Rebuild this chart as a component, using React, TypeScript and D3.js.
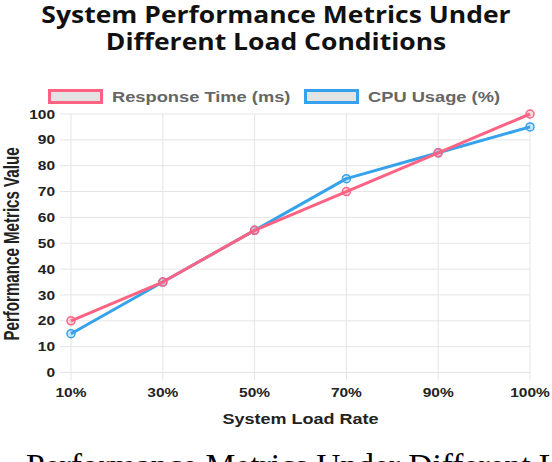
import { useEffect, useRef } from 'react';
import * as d3 from 'd3';

/**
 * System performance line chart
 *
 * Two series (response time, CPU usage) over system load rate
 */

const loadLabels = ['10%', '30%', '50%', '70%', '90%', '100%'];
const responseTime = [20, 35, 55, 70, 85, 100];
const cpuUsage = [15, 35, 55, 75, 85, 95];
const yTicks = [0, 10, 20, 30, 40, 50, 60, 70, 80, 90, 100];

const seriesNames = ['Response Time (ms)', 'CPU Usage (%)'];
const seriesColors = ['#ff6384', '#36a2eb'];

// the original canvas was squashed vertically, text looks flatter
const SQ = 0.84;
const SANS = '"Liberation Sans", Arial, Helvetica, sans-serif';

export default function App() {
  const svgRef = useRef<SVGSVGElement>(null);

  useEffect(() => {
    if (!svgRef.current) return;
    document.body.style.margin = '0';
    document.body.style.overflow = 'hidden';

    const width = 552;
    const height = 462;
    const plot = { left: 71, right: 530, top: 114, bottom: 372.5 };

    const svg = d3.select(svgRef.current);
    svg.selectAll('*').remove();
    svg.attr('width', width).attr('height', height);

    const flatText = (
      parent: d3.Selection<any, unknown, null, undefined>,
      x: number,
      y: number,
      str: string
    ) =>
      parent
        .append('g')
        .attr('transform', `translate(${x},${y}) scale(1,${SQ})`)
        .append('text')
        .attr('font-family', SANS)
        .text(str);

    // Scales
    const xScale = d3
      .scalePoint<string>()
      .domain(loadLabels)
      .range([plot.left, plot.right]);

    const yScale = d3
      .scaleLinear()
      .domain([0, 100])
      .range([plot.bottom, plot.top]);

    // Title
    const titleLines = ['System Performance Metrics Under', 'Different Load Conditions'];
    titleLines.forEach((line, i) => {
      svg
        .append('g')
        .attr('transform', `translate(${width / 2},${22.5 + i * 27.5}) scale(1,0.88)`)
        .append('text')
        .attr('text-anchor', 'middle')
        .attr('font-family', '"Open Sans", "Noto Sans", sans-serif')
        .attr('font-weight', 'bold')
        .attr('font-size', '26.5px')
        .attr('fill', '#111')
        .text(line);
    });

    // Legend
    const legendX = [48, 304];
    seriesNames.forEach((name, i) => {
      svg
        .append('rect')
        .attr('x', legendX[i] + 1.5)
        .attr('y', 90.5)
        .attr('width', 52)
        .attr('height', 12)
        .attr('fill', '#e3e3e3')
        .attr('stroke', seriesColors[i])
        .attr('stroke-width', 3);
      flatText(svg, legendX[i] + 64, 96.5, name)
        .attr('dy', '0.35em')
        .attr('font-weight', 'bold')
        .attr('font-size', '18.3px')
        .attr('fill', '#666');
    });

    const g = svg.append('g');

    // Grid
    g.selectAll('.hgrid')
      .data(yTicks)
      .enter()
      .append('line')
      .attr('x1', plot.left - 11)
      .attr('x2', plot.right)
      .attr('y1', (d) => yScale(d))
      .attr('y2', (d) => yScale(d))
      .attr('stroke', '#e5e5e5')
      .attr('stroke-width', 1);

    g.selectAll('.vgrid')
      .data(loadLabels)
      .enter()
      .append('line')
      .attr('x1', (d) => xScale(d) || 0)
      .attr('x2', (d) => xScale(d) || 0)
      .attr('y1', plot.top)
      .attr('y2', plot.bottom + 8)
      .attr('stroke', '#e5e5e5')
      .attr('stroke-width', 1);

    // Y tick labels
    yTicks.forEach((t) => {
      flatText(g, plot.left - 16, yScale(t), String(t))
        .attr('dy', '0.35em')
        .attr('text-anchor', 'end')
        .attr('font-weight', 'bold')
        .attr('font-size', '15.5px')
        .attr('fill', '#222');
    });

    // X tick labels
    loadLabels.forEach((c) => {
      flatText(g, xScale(c) || 0, 392, c)
        .attr('dy', '0.35em')
        .attr('text-anchor', 'middle')
        .attr('font-weight', 'bold')
        .attr('font-size', '15.5px')
        .attr('fill', '#222');
    });

    // Axis titles
    flatText(g, (plot.left + plot.right) / 2, 424, 'System Load Rate')
      .attr('text-anchor', 'middle')
      .attr('font-weight', 'bold')
      .attr('font-size', '18px')
      .attr('fill', '#222');

    svg
      .append('g')
      .attr('transform', `translate(11,244) scale(${1 / SQ},${SQ}) rotate(-90)`)
      .append('text')
      .attr('dy', '0.35em')
      .attr('text-anchor', 'middle')
      .attr('font-family', SANS)
      .attr('font-weight', 'bold')
      .attr('font-size', '18px')
      .attr('fill', '#222')
      .text('Performance Metrics Value');

    // Lines and points (response time drawn last, on top)
    const line = d3
      .line<number>()
      .x((_, i) => xScale(loadLabels[i]) || 0)
      .y((d) => yScale(d));

    const series = [cpuUsage, responseTime];
    const colors = [seriesColors[1], seriesColors[0]];
    series.forEach((values, s) => {
      g.append('path')
        .datum(values)
        .attr('d', line)
        .attr('fill', 'none')
        .attr('stroke', colors[s])
        .attr('stroke-width', 3)
        .attr('stroke-linejoin', 'round');

      g.selectAll(`.pt-${s}`)
        .data(values)
        .enter()
        .append('circle')
        .attr('cx', (_, i) => xScale(loadLabels[i]) || 0)
        .attr('cy', (d) => yScale(d))
        .attr('r', 4)
        .attr('fill', d3.color(colors[s])!.copy({ opacity: 0.25 }).toString())
        .attr('stroke', colors[s])
        .attr('stroke-width', 1.5);
    });

    // Caption below the chart (cut off by the window)
    svg
      .append('text')
      .attr('x', 26)
      .attr('y', 477)
      .attr('font-family', '"Liberation Serif", "Times New Roman", serif')
      .attr('font-size', '33.5px')
      .attr('fill', '#000')
      .text('Performance Metrics Under Different Load Conditions');
  }, []);

  return <svg ref={svgRef} style={{ display: 'block' }} />;
}
